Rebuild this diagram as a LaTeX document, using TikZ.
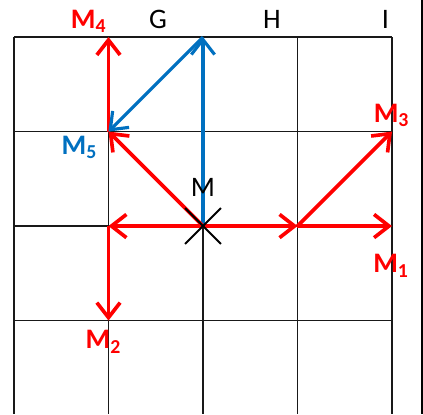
\documentclass[tikz,border=0pt]{standalone}
\usepackage{fontspec}
\setmainfont{Carlito}
\definecolor{movered}{RGB}{255, 0, 0}
\definecolor{moveblue}{RGB}{0, 112, 192}
\usetikzlibrary{arrows.meta}

\begin{document}
\begin{tikzpicture}[
    x=2cm, y=2cm,
    every node/.style={font=\fontsize{17}{20}\selectfont, inner sep=0pt, anchor=base},
    gridline/.style={line width=1pt, black!90},
    redmove/.style={-{Straight Barb[length=9pt, width=14pt]}, line width=2.2pt, movered},
    bluemove/.style={-{Straight Barb[length=9pt, width=14pt]}, line width=1.9pt, moveblue},
    tag/.style={font=\fontsize{17}{20}\selectfont\bfseries},
]
  \useasboundingbox (-2.148,-1.989) rectangle (2.328,2.392);

  % Grid
  \foreach \x in {-2,...,2}
    \draw[gridline] (\x,2) -- (\x,-1.989);
  \foreach \y in {-1,...,2}
    \draw[gridline] (-2,\y) -- (2,\y);
  \draw[line width=1.8pt] (2.318,2.392) -- (2.318,-1.989);

  % Points
  \coordinate (M) at (0,0);
  \coordinate (L) at (-1,0);
  \coordinate (R) at (1,0);
  \coordinate (T) at (0,2);
  \coordinate (P1) at (2,0);
  \coordinate (P2) at (-1,-1);
  \coordinate (P3) at (2,1);
  \coordinate (P4) at (-1,2);
  \coordinate (P5) at (-1,1);

  % Moves
  \draw[bluemove] (M) -- (T);
  \draw[redmove] (M) -- (L);
  \draw[redmove] (M) -- (R);
  \draw[redmove] (M) -- (P5);
  \draw[redmove] (R) -- (P1);
  \draw[redmove] (R) -- (P3);
  \draw[redmove] (L) -- (P2);
  \draw[redmove] (P5) -- (P4);
  \draw[bluemove] (T) -- (P5);

  % Cross at M
  \draw[line width=1.2pt] ([shift={(-0.19,-0.19)}]M) -- ([shift={(0.19,0.19)}]M);
  \draw[line width=1.2pt] ([shift={(-0.19,0.19)}]M) -- ([shift={(0.19,-0.19)}]M);

  % Labels
  \node (labG) at (-0.476,2.095) {G};
  \node (labH) at (0.73,2.095) {H};
  \node (labI) at (1.93,2.095) {I};
  \node (labM) at (0,0.31) {M};
  \node[tag, text=movered] (labM1) at (1.99,-0.494) {M\textsubscript{1}};
  \node[tag, text=movered] (labM2) at (-1.053,-1.30) {M\textsubscript{2}};
  \node[tag, text=movered] (labM3) at (1.995,1.10) {M\textsubscript{3}};
  \node[tag, text=movered] (labM4) at (-1.21,2.095) {M\textsubscript{4}};
  \node[tag, text=moveblue] (labM5) at (-1.307,0.762) {M\textsubscript{5}};
\end{tikzpicture}
\end{document}
